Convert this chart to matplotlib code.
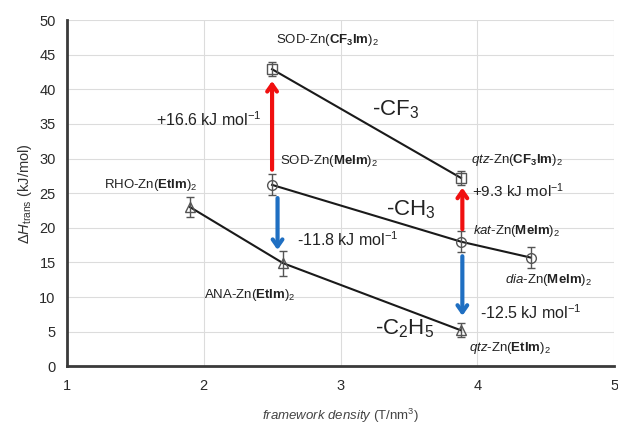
import matplotlib
matplotlib.use('Agg')
import matplotlib.pyplot as plt

plt.rcParams['font.family'] = 'Liberation Sans'
plt.rcParams['mathtext.fontset'] = 'custom'
plt.rcParams['mathtext.rm'] = 'Liberation Sans'
plt.rcParams['mathtext.it'] = 'Liberation Sans:italic'
plt.rcParams['mathtext.bf'] = 'Liberation Sans:bold'

# data
cf3_x = [2.5, 3.88]
cf3_y = [42.9, 27.2]
cf3_err = [1.0, 1.0]

ch3_x = [2.5, 3.88, 4.39]
ch3_y = [26.2, 18.0, 15.7]
ch3_err = [1.5, 1.5, 1.5]

et_x = [1.9, 2.58, 3.88]
et_y = [23.0, 14.9, 5.2]
et_err = [1.5, 1.8, 1.0]

# (x, y_from, y_to) for the arrows
red_arrows = [(2.5, 28.0, 41.6), (3.89, 19.4, 26.2)]
blue_arrows = [(2.54, 24.7, 16.4), (3.89, 16.3, 6.9)]

fig, ax = plt.subplots(figsize=(6.18, 4.26), dpi=100)
fig.subplots_adjust(left=0.108, right=0.994, top=0.953, bottom=0.14)

ax.set_xlim(1, 5)
ax.set_ylim(0, 50)
ax.set_xticks([1, 2, 3, 4, 5])
ax.set_yticks(range(0, 51, 5))
ax.grid(True, color='#dcdcdc', lw=0.8)
ax.set_axisbelow(True)
ax.tick_params(length=0, labelsize=10.5, colors='#2a2a2a')
ax.tick_params(axis='x', pad=9)
ax.tick_params(axis='y', pad=8)
for s in ['top', 'right']:
    ax.spines[s].set_visible(False)
for s in ['left', 'bottom']:
    ax.spines[s].set_color('#3a3a3a')
    ax.spines[s].set_linewidth(2)

for xs, ys, es, m in [(cf3_x, cf3_y, cf3_err, 's'),
                      (ch3_x, ch3_y, ch3_err, 'o'),
                      (et_x, et_y, et_err, '^')]:
    ax.plot(xs, ys, color='#1a1a1a', lw=1.5, zorder=3)
    ax.errorbar(xs, ys, yerr=es, fmt=m, ms=7, mfc='none', mec='#555555',
                mew=1, ecolor='#555555', elinewidth=1, capsize=3, zorder=4)

for x, y0, y1 in red_arrows:
    ax.annotate('', xy=(x, y1), xytext=(x, y0),
                arrowprops=dict(arrowstyle='->,head_length=0.5,head_width=0.35',
                                color='#f01010', lw=3), zorder=5)
for x, y0, y1 in blue_arrows:
    ax.annotate('', xy=(x, y1), xytext=(x, y0),
                arrowprops=dict(arrowstyle='->,head_length=0.5,head_width=0.35',
                                color='#1f6fc2', lw=3), zorder=5)

tc = '#222222'
ax.text(2.53, 47.1, r'SOD-Zn($\mathbf{CF_3Im}$)$_2$', fontsize=9.5, color=tc, va='center')
ax.text(2.56, 29.6, r'SOD-Zn($\mathbf{MeIm}$)$_2$', fontsize=9.5, color=tc, va='center')
ax.text(1.27, 26.2, r'RHO-Zn($\mathbf{EtIm}$)$_2$', fontsize=9.5, color=tc, va='center')
ax.text(2.0, 10.3, r'ANA-Zn($\mathbf{EtIm}$)$_2$', fontsize=9.5, color=tc, va='center')
ax.text(3.95, 29.8, r'$\it{qtz}$-Zn($\mathbf{CF_3Im}$)$_2$', fontsize=9.5, color=tc, va='center')
ax.text(3.97, 19.6, r'$\it{kat}$-Zn($\mathbf{MeIm}$)$_2$', fontsize=9.5, color=tc, va='center')
ax.text(4.2, 12.4, r'$\it{dia}$-Zn($\mathbf{MeIm}$)$_2$', fontsize=9.5, color=tc, va='center')
ax.text(3.94, 2.7, r'$\it{qtz}$-Zn($\mathbf{EtIm}$)$_2$', fontsize=9.5, color=tc, va='center')

ax.text(2.42, 35.6, r'+16.6 kJ mol$^{-1}$', fontsize=11.5, color=tc, va='center', ha='right')
ax.text(3.96, 25.4, r'+9.3 kJ mol$^{-1}$', fontsize=11, color=tc, va='center')
ax.text(2.68, 18.3, r'-11.8 kJ mol$^{-1}$', fontsize=11.5, color=tc, va='center')
ax.text(4.02, 7.8, r'-12.5 kJ mol$^{-1}$', fontsize=11.5, color=tc, va='center')

ax.text(3.23, 37.0, r'-CF$_3$', fontsize=16, color=tc, va='center')
ax.text(3.33, 22.6, r'-CH$_3$', fontsize=16, color=tc, va='center')
ax.text(3.25, 5.4, r'-C$_2$H$_5$', fontsize=16, color=tc, va='center')

ax.set_xlabel(r'$\it{framework\ density}$ (T/nm$^3$)', fontsize=9.5, color='#444444', labelpad=10)
ax.set_ylabel(r'$\Delta\it{H}_{\mathrm{trans}}$ (kJ/mol)', fontsize=10.5, color='#333333', labelpad=4)

fig.savefig('out.png', dpi=100)
